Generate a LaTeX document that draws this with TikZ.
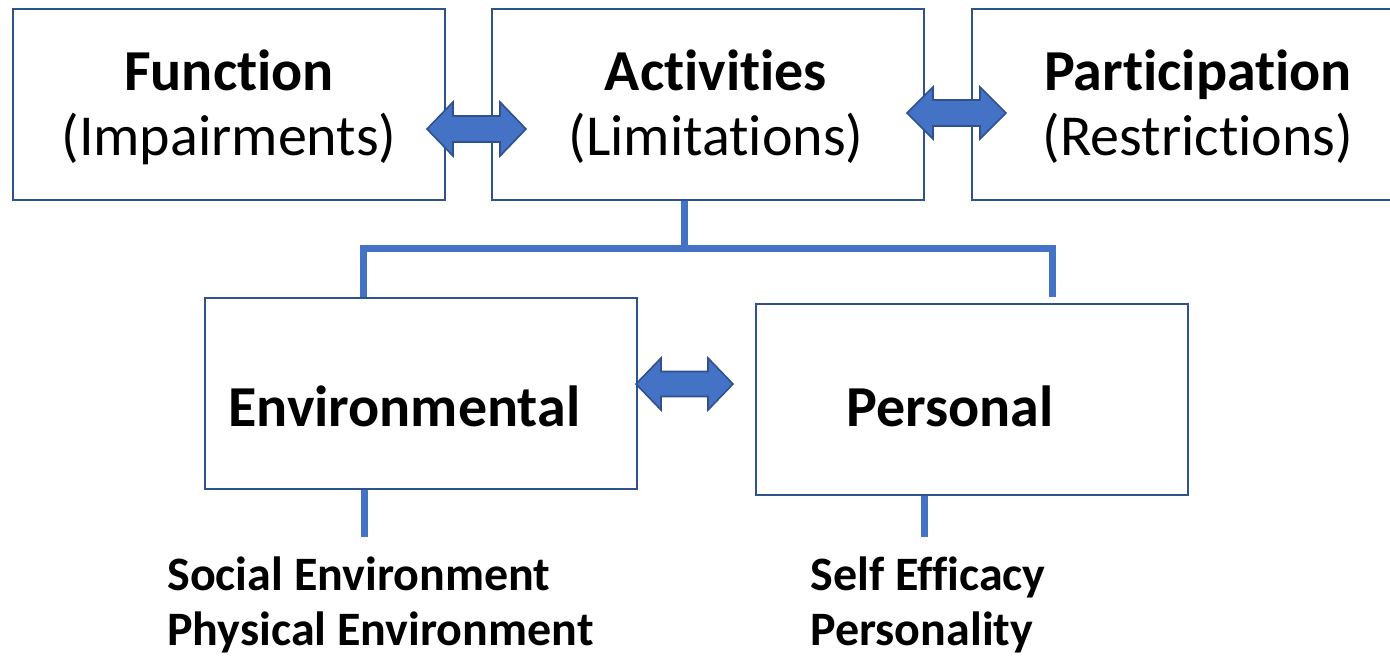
\documentclass[tikz,border=0pt]{standalone}
\usepackage{fontspec}
\setmainfont{Carlito}[Ligatures={NoCommon,NoRare,NoContextual}]
\definecolor{boxline}{HTML}{2F528F}
\definecolor{accent}{HTML}{4472C4}
\tikzset{
  box/.style={draw=boxline, line width=1pt, rectangle, fill=white, minimum width=216pt, minimum height=95.5pt, inner sep=0pt},
  conn/.style={draw=accent, line width=3.5pt, line join=miter},
  blockarrow/.style={fill=accent, draw=boxline, line width=0.8pt, line join=miter},
  big/.style={font=\fontsize{29}{34}\selectfont, inner sep=0pt},
  bigb/.style={font=\fontsize{29}{34}\selectfont\bfseries, inner sep=0pt},
  small/.style={font=\fontsize{24}{28}\selectfont\bfseries, inner sep=0pt}
}
\newcommand\dblarr[7]{% x1 x2 yc hl hh sh
  \filldraw[blockarrow] (#1,#3) -- (#1+#4,#3-#5) -- (#1+#4,#3-#6) -- (#2-#4,#3-#6) -- (#2-#4,#3-#5) -- (#2,#3) -- (#2-#4,#3+#5) -- (#2-#4,#3+#6) -- (#1+#4,#3+#6) -- (#1+#4,#3+#5) -- cycle;}
\begin{document}
\begin{tikzpicture}[x=0.5pt,y=-0.5pt]
\useasboundingbox (0,0) rectangle (1390,655);
\clip (0,0) rectangle (1390,655);
\fill[white] (0,0) rectangle (1390,655);
% boxes
\node[box] (fun) at (229,104.5) {};
\node[box] (act) at (708,104.5) {};
\node[box] (par) at (1188,104.5) {};
\node[box] (env) at (420.5,393) {};
\node[box] (per) at (972,399) {};
% texts
\node[bigb, anchor=base] (funT) at (229,90) {Function};
\node[big, anchor=base] (funS) at (229,155) {(Impairments)};
\node[bigb, anchor=base] (actT) at (716,90) {Activities};
\node[big, anchor=base] (actS) at (716,155) {(Limitations)};
\node[bigb, anchor=base] (parT) at (1198,90) {Participation};
\node[big, anchor=base] (parS) at (1198,155) {(Restrictions)};
\node[bigb, anchor=base west] (envT) at (228,426) {Environmental};
\node[bigb, anchor=base] (perT) at (950,426) {Personal};
\node[small, anchor=base west] (soc) at (167,590) {Social Environment};
\node[small, anchor=base west] (phy) at (167,645) {Physical Environment};
\node[small, anchor=base west] (sel) at (810,590) {Self Efficacy};
\node[small, anchor=base west] (pers) at (810,645) {Personality};
% connectors
\coordinate (j) at (684,248);
\coordinate (lc) at (363,248);
\coordinate (rc) at (1052,248);
\coordinate (rEnd) at (1052,297);
\coordinate (envEnd) at (364,537);
\coordinate (perEnd) at (924,537);
\draw[conn] (act.south -| j) -- (j);
\draw[conn] (env.north -| lc) -- (lc) -- (rc) -- (rEnd);
\draw[conn] (env.south -| envEnd) -- (envEnd);
\draw[conn] (per.south -| perEnd) -- (perEnd);
% block arrows
\dblarr{427}{526}{129}{26}{27}{13}{}
\dblarr{907}{1006}{113}{26}{26}{13}{}
\dblarr{636}{733}{384}{25}{26}{12.5}{}
\end{tikzpicture}
\end{document}
